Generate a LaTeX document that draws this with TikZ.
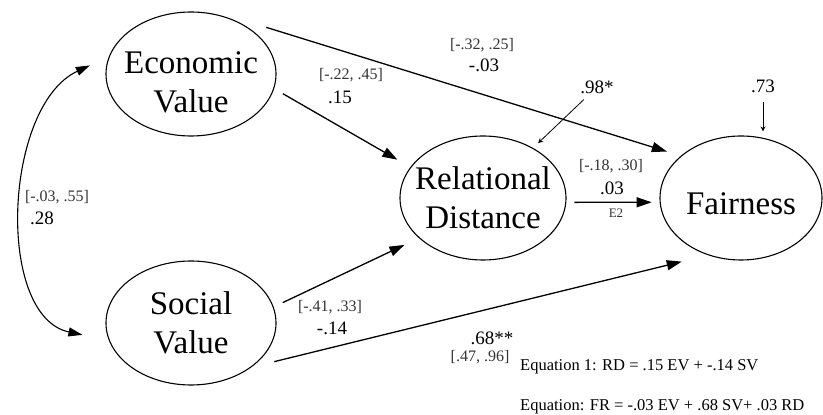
\documentclass[tikz,border=0pt]{standalone}
\usepackage{tikz}
\usetikzlibrary{shapes.geometric, arrows.meta}
\usepackage{fontspec}
\setmainfont{Liberation Serif}
\tikzset{
  latent/.style={draw, ellipse, line width=1.1pt, minimum width=166pt, minimum height=124pt, inner xsep=-14pt, inner ysep=0pt, align=center, font=\fontsize{33}{39}\selectfont},
  ci/.style={inner sep=1pt, font=\fontsize{16}{18}\selectfont, text=black!80},
  coef/.style={inner sep=1pt, font=\fontsize{19}{21}\selectfont},
  eqn/.style={inner sep=0pt, anchor=west, font=\fontsize{16.5}{18}\selectfont},
  arr/.style={-{Triangle[length=15pt, width=10pt]}, line width=1.3pt},
  corr/.style={{Triangle[length=14pt, width=9pt]}-{Triangle[length=14pt, width=9pt]}, line width=1.1pt},
  sarr/.style={-{Stealth[length=5pt, width=5pt]}, line width=0.8pt}
}
\begin{document}
\begin{tikzpicture}[x=1pt, y=1pt]
\useasboundingbox (0,0) rectangle (823,415);
% latent variables
\node[latent, minimum width=170pt] (ev) at (191,341) {\rule{0pt}{38pt}Economic\\Value};
\node[latent, minimum width=170pt] (sv) at (191,92) {Social\\Value};
\node[latent] (rd) at (483,217) {Relational\\Distance};
\node[latent, minimum width=162pt] (fr) at (741,217) {\rule{0pt}{32.5pt}Fairness};
% path labels
\node[ci] (ci1) at (482,370) {[-.32, .25]};
\node[coef] (b1) at (484,350) {-.03};
\node[ci] (ci2) at (351,340) {[-.22, .45]};
\node[coef] (b2) at (340,318) {.15};
\node[ci] (ci3) at (57,218) {[-.03, .55]};
\node[coef] (b3) at (42,197) {.28};
\node[ci] (ci4) at (330,108) {[-.41, .33]};
\node[coef] (b4) at (332,87) {-.14};
\node[ci] (ci5) at (611,249) {[-.18, .30]};
\node[coef] (b5) at (612,227) {.03};
\node[ci, font=\fontsize{13}{15}\selectfont] (e2) at (616,202) {E2};
\node[coef] (b6) at (492,77) {.68**};
\node[ci] (ci6) at (480,58) {[.47, .96]};
% disturbances
\node[coef] (d1) at (597,328) {.98*};
\node[coef] (d2) at (763,329) {.73};
% equations
\node[eqn] (eq1) at (520,48) {Equation 1: RD = .15 EV + -.14 SV};
\node[eqn] (eq2) at (520,8) {Equation: FR = -.03 EV + .68 SV+ .03 RD};
% paths
\draw[arr, shorten <=10pt, shorten >=15pt] (ev.-10) -- (rd.157);
\draw[arr, shorten <=15.5pt, shorten >=14.5pt] ([yshift=7pt]ev.north east) -- (fr.145);
\draw[arr, shorten <=10pt, shorten >=16pt] (sv.11) -- (rd.-148);
\draw[arr, shorten <=23.5pt, shorten >=27pt] (sv.south east) -- (fr.-120);
\draw[arr, shorten <=8pt, shorten >=8pt] (rd.-3) -- (fr.183);
\draw[corr, shorten <=21pt, shorten >=27pt] (ev.168) to[out=205, in=168, looseness=1.05] (sv.192);
\draw[sarr, shorten <=7pt, shorten >=7pt] (d1) -- (rd.45);
\draw[sarr, shorten <=8pt, shorten >=4pt] (d2) -- (d2 |- fr.north);
\end{tikzpicture}
\end{document}
